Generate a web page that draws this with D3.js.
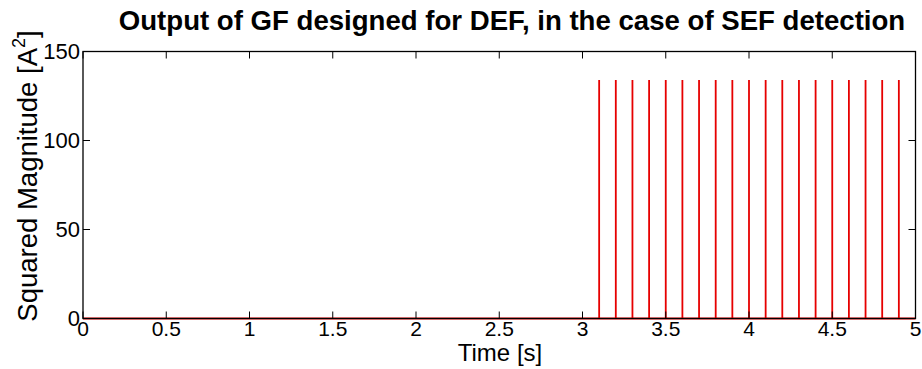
<!DOCTYPE html>
<html><head><meta charset="utf-8">
<script src="https://cdn.jsdelivr.net/npm/d3@7"></script>
<style>body{margin:0;background:#fff}svg{display:block;font-family:"Liberation Sans",Arial,sans-serif}</style>
</head><body><svg id="c" width="922" height="369"></svg>
<script>
const spikeTimes = [3.1,3.2,3.3,3.4,3.5,3.6,3.7,3.8,3.9,4.0,4.1,4.2,4.3,4.4,4.5,4.6,4.7,4.8,4.9];
const spikeValues = [134,134,134,134,134,134,134,134,134,134,134,134,134,134,134,134,134,134,134];
const xTicks = [0,0.5,1,1.5,2,2.5,3,3.5,4,4.5,5];
const yTicks = [0,50,100,150];

const svg = d3.select("#c");
const m = {l:83, r:915.5, t:51.5, b:318.5};
const x = d3.scaleLinear().domain([0,5]).range([m.l, m.r]);
const y = d3.scaleLinear().domain([0,150]).range([m.b, m.t]);

const pts = [[0,0]];
spikeTimes.forEach((t,i)=>{ pts.push([t,0],[t,spikeValues[i]],[t,0]); });
pts.push([5,0]);

svg.append("path").datum(pts)
  .attr("d", d3.line().x(d=>x(d[0])).y(d=>y(d[1])))
  .attr("fill","none").attr("stroke","#e60000").attr("stroke-width",1.8);

svg.append("rect").attr("x",m.l).attr("y",m.t).attr("width",m.r-m.l).attr("height",m.b-m.t)
  .attr("fill","none").attr("stroke","#000").attr("stroke-width",1.3);

const tl = 7;
const g = svg.append("g").attr("stroke","#000").attr("stroke-width",1);
xTicks.forEach(v=>{
  g.append("line").attr("x1",x(v)).attr("x2",x(v)).attr("y1",m.b).attr("y2",m.b-tl);
  g.append("line").attr("x1",x(v)).attr("x2",x(v)).attr("y1",m.t).attr("y2",m.t+tl);
});
yTicks.forEach(v=>{
  g.append("line").attr("x1",m.l).attr("x2",m.l+tl).attr("y1",y(v)).attr("y2",y(v));
  g.append("line").attr("x1",m.r).attr("x2",m.r-tl).attr("y1",y(v)).attr("y2",y(v));
});

svg.append("g").selectAll("text").data(xTicks).join("text")
  .attr("x",d=>x(d)).attr("y",336).attr("text-anchor","middle")
  .attr("font-size",21).text(d=>d3.format("")(d));
svg.append("g").selectAll("text").data(yTicks).join("text")
  .attr("x",m.l-3).attr("y",d=>y(d)+7).attr("text-anchor","end")
  .attr("font-size",22).text(d=>d);

svg.append("text").attr("x",500).attr("y",361).attr("text-anchor","middle")
  .attr("font-size",24).text("Time [s]");

const yl = svg.append("text").attr("transform","translate(37,176) rotate(-90)")
  .attr("text-anchor","middle").attr("font-size",27.5);
yl.append("tspan").text("Squared Magnitude [A");
yl.append("tspan").attr("font-size",18).attr("dy",-12).text("2");
yl.append("tspan").attr("dy",12).text("]");

svg.append("text").attr("x",512).attr("y",30).attr("text-anchor","middle")
  .attr("font-size",27.6).attr("font-weight","bold").text("Output of GF designed for DEF, in the case of SEF detection");
</script></body></html>
